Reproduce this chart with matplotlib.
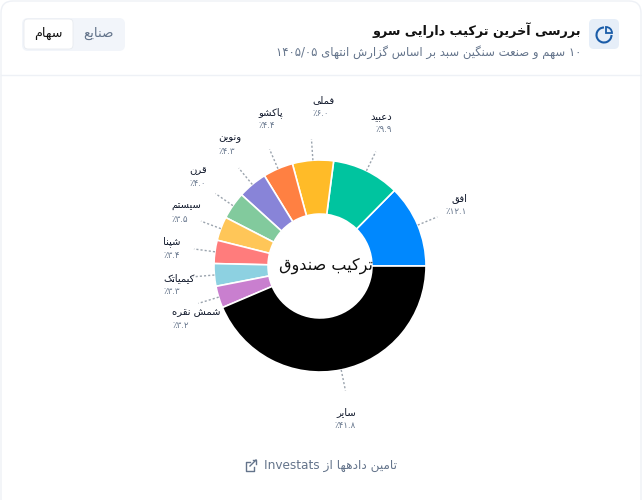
import numpy as np
import matplotlib
matplotlib.use("Agg")
import matplotlib.pyplot as plt
from matplotlib.patches import FancyBboxPatch, Wedge, Arc

plt.rcParams['font.family'] = ['DejaVu Sans']

names = ["افق", "دعبید", "فملی", "پاکشو", "ونوین", "قرن", "سیستم", "شپنا", "کیمیاتک", "شمش نقره", "سایر"]
values = [12.1, 9.9, 6.0, 4.4, 4.3, 4.0, 3.5, 3.4, 3.3, 3.2, 41.8]
pct_labels = ["٪۱۲.۱", "٪۹.۹", "٪۶.۰", "٪۴.۴", "٪۴.۳", "٪۴.۰", "٪۳.۵", "٪۳.۴", "٪۳.۳", "٪۳.۲", "٪۴۱.۸"]
colors = ["#0088fe", "#00c49f", "#ffbb28", "#ff8042", "#8884d8", "#82ca9d",
          "#ffc658", "#ff7c7c", "#8dd1e1", "#c97fcf", "#000000"]

# label anchor in pixels: x, name y, pct y, alignment
label_x = [467, 392, 312, 258, 218, 189, 171, 163, 163, 172, 356]
label_y = [198, 117, 100, 113, 138, 170, 206, 242, 278, 312, 412]
label_ha = ["right", "right", "left", "left", "left", "left", "left", "left", "left", "left", "right"]

FORMS = {
    "ا": (0xFE8D, 0xFE8E), "آ": (0xFE81, 0xFE82), "د": (0xFEA9, 0xFEAA), "ر": (0xFEAD, 0xFEAE),
    "ز": (0xFEAF, 0xFEB0), "ژ": (0xFB8A, 0xFB8B), "و": (0xFEED, 0xFEEE),
    "ب": (0xFE8F, 0xFE90, 0xFE91, 0xFE92), "پ": (0xFB56, 0xFB57, 0xFB58, 0xFB59),
    "ت": (0xFE95, 0xFE96, 0xFE97, 0xFE98), "خ": (0xFEA5, 0xFEA6, 0xFEA7, 0xFEA8),
    "س": (0xFEB1, 0xFEB2, 0xFEB3, 0xFEB4), "ش": (0xFEB5, 0xFEB6, 0xFEB7, 0xFEB8),
    "ص": (0xFEB9, 0xFEBA, 0xFEBB, 0xFEBC), "ع": (0xFEC9, 0xFECA, 0xFECB, 0xFECC),
    "ف": (0xFED1, 0xFED2, 0xFED3, 0xFED4), "ق": (0xFED5, 0xFED6, 0xFED7, 0xFED8),
    "ک": (0xFB8E, 0xFB8F, 0xFB90, 0xFB91), "گ": (0xFB92, 0xFB93, 0xFB94, 0xFB95),
    "ل": (0xFEDD, 0xFEDE, 0xFEDF, 0xFEE0), "م": (0xFEE1, 0xFEE2, 0xFEE3, 0xFEE4),
    "ن": (0xFEE5, 0xFEE6, 0xFEE7, 0xFEE8), "ه": (0xFEE9, 0xFEEA, 0xFEEB, 0xFEEC),
    "ی": (0xFBFC, 0xFBFD, 0xFBFE, 0xFBFF),
}


def _shape_word(word):
    # pick joined presentation forms, then reverse for left to right drawing
    out = []
    for i, ch in enumerate(word):
        f = FORMS.get(ch)
        if f is None:
            out.append(ch)
            continue
        prev = word[i - 1] if i > 0 else ""
        nxt = word[i + 1] if i + 1 < len(word) else ""
        join_prev = prev in FORMS and len(FORMS[prev]) == 4
        join_next = nxt in FORMS and len(f) == 4
        if join_prev and join_next:
            out.append(chr(f[3]))
        elif join_prev:
            out.append(chr(f[1]))
        elif join_next:
            out.append(chr(f[2]))
        else:
            out.append(chr(f[0]))
    return "".join(reversed(out))


def fa(text):
    tokens = []
    for tok in text.split(" "):
        if any(c in FORMS for c in tok):
            tokens.append(_shape_word(tok))
        else:
            tokens.append(tok)
    return " ".join(reversed(tokens))


fig = plt.figure(figsize=(6.42, 5), dpi=100, facecolor="white")

# page furniture in pixel coords
bg = fig.add_axes([0, 0, 1, 1])
bg.set_xlim(0, 642)
bg.set_ylim(500, 0)
bg.axis("off")

bg.add_patch(FancyBboxPatch((1, 1), 640, 520, boxstyle="round,pad=0,rounding_size=12",
                            fc="white", ec="#eef1f6", lw=1))
bg.plot([1, 641], [74.5, 74.5], color="#eef1f6", lw=1)

# header icon
bg.add_patch(FancyBboxPatch((589, 19), 30, 30, boxstyle="round,pad=0,rounding_size=5",
                            fc="#e6eef8", ec="none"))
bg.add_patch(Arc((604, 35), 15, 15, theta1=0, theta2=270, color="#1a5ca8", lw=1.5))
bg.add_patch(Wedge((606, 33), 6, 270, 360, fc="none", ec="#1a5ca8", lw=1.3))

# toggle
bg.add_patch(FancyBboxPatch((22, 18), 103, 33, boxstyle="round,pad=0,rounding_size=6",
                            fc="#f2f5fa", ec="none"))
bg.add_patch(FancyBboxPatch((24, 19), 49, 30, boxstyle="round,pad=0,rounding_size=4",
                            fc="white", ec="#e8ebf0", lw=0.6))
bg.text(48, 33.5, fa("سهام"), ha="center", va="center", fontsize=9.2, color="#111111")
bg.text(98, 33.5, fa("صنایع"), ha="center", va="center", fontsize=9.6, color="#64748b")

bg.text(581, 30, fa("بررسی آخرین ترکیب دارایی سرو"), ha="right", va="center",
        fontsize=9.2, fontweight="bold", color="#111111")
bg.text(581, 52, fa("۱۰ سهم و صنعت سنگین سبد بر اساس گزارش انتهای ۱۴۰۵/۰۵"), ha="right", va="center",
        fontsize=8.4, color="#64748b")

# footer
bg.text(397, 465, fa("تامین داده‌ها از Investats".replace("\u200c", "")), ha="right", va="center",
        fontsize=8.7, color="#64748b")
bg.plot([250, 246, 246, 254, 254], [462, 462, 471, 471, 467], color="#64748b", lw=1)
bg.plot([250, 256], [466, 460], color="#64748b", lw=1)
bg.plot([252.5, 256, 256], [460, 460, 463.5], color="#64748b", lw=1)

for x, y, ha, name, pct in zip(label_x, label_y, label_ha, names, pct_labels):
    bg.text(x, y, fa(name), ha=ha, va="center", fontsize=7.2, color="#0f172a")
    bg.text(x, y + 13, pct, ha=ha, va="center", fontsize=6.2, color="#64748b")

# donut, axes sized so that radius 1 is the outer ring
ax = fig.add_axes([(320 - 106) / 642, (500 - 266 - 106) / 500, 212 / 642, 212 / 500])
ax.patch.set_alpha(0)
wedges, _ = ax.pie(values, colors=colors, startangle=0, counterclock=True, radius=1,
                   wedgeprops=dict(width=0.51, edgecolor="white", linewidth=1.2, clip_on=False))
ax.set_xlim(-1, 1)
ax.set_ylim(-1, 1)

for w in wedges:
    mid = np.deg2rad((w.theta1 + w.theta2) / 2)
    ax.plot([np.cos(mid), 1.2 * np.cos(mid)], [np.sin(mid), 1.2 * np.sin(mid)],
            color="#9aa3ad", lw=1, ls=(0, (1.5, 1.5)), clip_on=False)

ax.text(0.06, 0, fa("ترکیب صندوق"), ha="center", va="center", fontsize=11.5, color="#111111")

fig.savefig("out.png", dpi=100)
plt.close(fig)
